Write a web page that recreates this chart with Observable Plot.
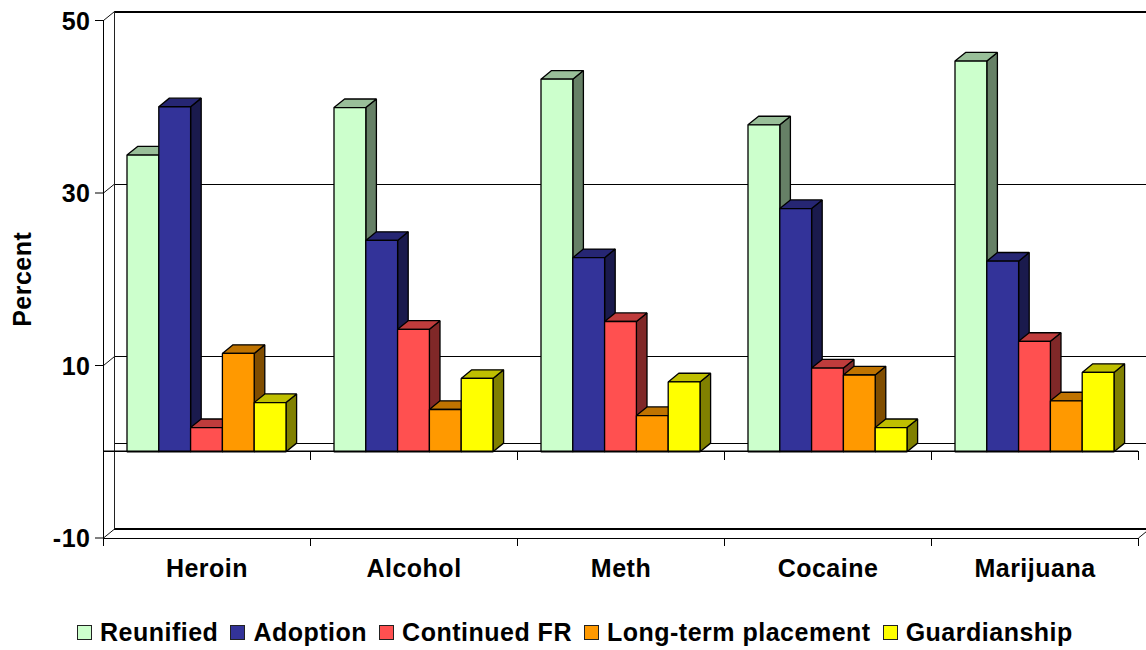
<!DOCTYPE html>
<html>
<head>
<meta charset="utf-8">
<script src="https://cdn.jsdelivr.net/npm/d3@7"></script>
<script src="https://cdn.jsdelivr.net/npm/@observablehq/plot@0.6"></script>
<style>
html,body{margin:0;padding:0;background:#fff;overflow:hidden;}
body{width:1146px;height:650px;font-family:"Liberation Sans",Arial,sans-serif;}
#legend{display:flex;align-items:center;height:40px;padding-left:77px;font-weight:bold;font-size:25px;letter-spacing:0.5px;color:#000;white-space:nowrap;}
#legend .item{display:flex;align-items:center;margin-right:12px;}
#legend .sw{width:13px;height:13px;border:1px solid #222;margin-right:8px;box-sizing:content-box;}
svg{display:block;}
</style>
</head>
<body>
<div id="chart"></div>
<div id="legend"></div>
<script>
const categories = ["Heroin", "Alcohol", "Meth", "Cocaine", "Marijuana"];
const seriesNames = ["Reunified", "Adoption", "Continued FR", "Long-term placement", "Guardianship"];
const reunified = [34.4, 39.9, 43.2, 37.9, 45.3];
const adoption = [40.0, 24.5, 22.5, 28.2, 22.1];
const continuedFR = [2.8, 14.2, 15.1, 9.7, 12.8];
const longTerm = [11.4, 4.9, 4.2, 8.9, 5.9];
const guardianship = [5.7, 8.5, 8.1, 2.8, 9.2];
const seriesValues = [reunified, adoption, continuedFR, longTerm, guardianship];
const frontColors = ["#CCFFCC", "#333399", "#FF5050", "#FF9900", "#FFFF00"];
const topColors = ["#99BF99", "#262673", "#BF3C3C", "#BF7300", "#BFBF00"];
const sideColors = ["#668066", "#1A1A4D", "#802828", "#804D00", "#808000"];
const yTicks = [-10, 10, 30, 50];
const backLines = [30, 10, 0];
const heavyBackLines = [50, -10];

const catWidthPx = 207;
const xMax = (1146 - 103) / catWidthPx;
const depthX = 10.6 / catWidthPx;
const depthY = 1;
const gap = 23.5 / catWidthPx;
const barW = (1 - 2 * 24 / catWidthPx) / 5;

const faces = [];
categories.forEach((c, ci) => {
  seriesValues.forEach((vals, si) => {
    const v = vals[ci];
    const x0 = ci + gap + si * barW, x1 = x0 + barW;
    const add = (name, color, pts) => pts.forEach(([x, y]) =>
      faces.push({id: `${c}-${si}-${name}`, x, y, color}));
    add("side", sideColors[si], [[x1, v], [x1 + depthX, v + depthY], [x1 + depthX, depthY], [x1, 0]]);
    add("top", topColors[si], [[x0, v], [x0 + depthX, v + depthY], [x1 + depthX, v + depthY], [x1, v]]);
    add("front", frontColors[si], [[x0, 0], [x0, v], [x1, v], [x1, 0]]);
  });
});

const catTicks = d3.range(0, categories.length + 1);
const font = `"Liberation Sans", Arial, sans-serif`;

const chart = Plot.plot({
  width: 1146,
  height: 612,
  marginLeft: 103,
  marginRight: 0,
  marginTop: 20,
  marginBottom: 74.5,
  style: {fontFamily: font, background: "#fff", color: "#000", letterSpacing: "0.5px"},
  x: {type: "linear", domain: [0, xMax], axis: null},
  y: {domain: [-10, 50]},
  color: {type: "identity"},
  marks: [
    // back wall
    Plot.ruleY(backLines, {y: d => d + depthY, x1: depthX, x2: xMax, stroke: "#000", strokeWidth: 1, shapeRendering: "crispEdges"}),
    Plot.ruleY(heavyBackLines, {y: d => d + depthY, x1: depthX, x2: xMax, stroke: "#000", strokeWidth: 2, shapeRendering: "crispEdges"}),
    Plot.ruleX([depthX], {y1: -10 + depthY, y2: 50 + depthY, stroke: "#222", strokeWidth: 1, shapeRendering: "crispEdges"}),
    Plot.link(yTicks, {x1: 0, y1: d => d, x2: depthX, y2: d => d + depthY, stroke: "#111", strokeWidth: 1}),
    // front frame
    Plot.ruleX([0], {y1: -11, y2: 50, stroke: "#000", strokeWidth: 1, shapeRendering: "crispEdges"}),
    Plot.ruleY([-10], {x1: 0, x2: categories.length, stroke: "#000", strokeWidth: 1, shapeRendering: "crispEdges"}),
    Plot.ruleX(catTicks, {y1: -10, y2: -11, stroke: "#000", strokeWidth: 1, shapeRendering: "crispEdges"}),
    Plot.ruleX(catTicks, {y1: 0, y2: -1, stroke: "#000", strokeWidth: 1, shapeRendering: "crispEdges"}),
    Plot.link([categories.length], {x1: d => d, y1: -10, x2: d => d + depthX, y2: -10 + depthY, stroke: "#111", strokeWidth: 1}),
    // bars
    Plot.line(faces, {x: "x", y: "y", z: "id", fill: "color", stroke: "#000", strokeWidth: 1.3, curve: "linear-closed", strokeLinejoin: "miter"}),
    Plot.ruleY([0], {x1: 0, x2: categories.length, dy: -0.5, stroke: "#000", strokeWidth: 1.6}),
    // axes
    Plot.axisY({ticks: yTicks, text: null, tickSize: 8, stroke: "#000", label: null}),
    Plot.axisY({
      ticks: yTicks, tickFormat: d => String(d), tickSize: 0, tickPadding: 13, dy: 1, fontSize: 25, fontWeight: "bold",
      label: "Percent", labelAnchor: "center", labelArrow: "none", labelOffset: 90
    }),
    Plot.text(categories, {
      x: (d, i) => i + 0.5, y: -10, dy: 31, text: d => d,
      fontSize: 25, fontWeight: "bold", fill: "#000"
    })
  ]
});
document.getElementById("chart").appendChild(chart);

const legend = d3.select("#legend");
seriesNames.forEach((name, i) => {
  const item = legend.append("div").attr("class", "item");
  item.append("div").attr("class", "sw").style("background", frontColors[i]);
  item.append("span").text(name);
});
</script>
</body>
</html>
